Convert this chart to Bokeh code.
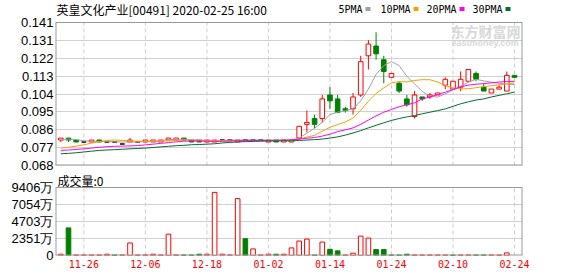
import numpy as np
from bokeh.plotting import figure
from bokeh.layouts import column
from bokeh.models import Range1d, FixedTicker, Label
from bokeh.core.properties import value
from bokeh.embed import file_html
from bokeh.resources import INLINE

# ---------------- data ----------------
title_text = "英皇文化产业[00491] 2020-02-25 16:00"
volume_title = "成交量:0"

dates = ["11-21", "11-22", "11-25", "11-26", "11-27", "11-28", "11-29", "12-02", "12-03", "12-04",
         "12-05", "12-06", "12-09", "12-10", "12-11", "12-12", "12-13", "12-16", "12-17", "12-18",
         "12-19", "12-20", "12-23", "12-24", "12-27", "12-30", "12-31", "01-02", "01-03", "01-06",
         "01-07", "01-08", "01-09", "01-10", "01-13", "01-14", "01-15", "01-16", "01-17", "01-20",
         "01-21", "01-22", "01-23", "01-24", "01-29", "01-30", "01-31", "02-03", "02-04", "02-05",
         "02-06", "02-10", "02-11", "02-12", "02-13", "02-14", "02-17", "02-18", "02-20", "02-24"]

opens = [0.081, 0.082, 0.081, 0.080, 0.080, 0.081, 0.080, 0.080, 0.079, 0.080,
         0.080, 0.080, 0.080, 0.080, 0.081, 0.081, 0.082, 0.081, 0.081, 0.080,
         0.080, 0.081, 0.081, 0.080, 0.081, 0.081, 0.081, 0.080, 0.081, 0.080,
         0.080, 0.082, 0.089, 0.092, 0.092, 0.104, 0.102, 0.097, 0.097, 0.104,
         0.124, 0.129, 0.122, 0.113, 0.110, 0.102, 0.093, 0.103, 0.103, 0.104,
         0.109, 0.107, 0.108, 0.111, 0.115, 0.108, 0.105, 0.107, 0.106, 0.114]
highs = [0.082, 0.082, 0.081, 0.080, 0.081, 0.081, 0.080, 0.080, 0.079, 0.082,
         0.080, 0.081, 0.081, 0.081, 0.082, 0.082, 0.082, 0.081, 0.081, 0.081,
         0.081, 0.081, 0.081, 0.081, 0.081, 0.081, 0.081, 0.081, 0.081, 0.081,
         0.081, 0.088, 0.096, 0.094, 0.104, 0.108, 0.104, 0.098, 0.105, 0.124,
         0.132, 0.136, 0.124, 0.115, 0.111, 0.104, 0.106, 0.103, 0.105, 0.105,
         0.113, 0.111, 0.116, 0.117, 0.116, 0.110, 0.107, 0.109, 0.116, 0.114]
lows = [0.080, 0.080, 0.080, 0.080, 0.080, 0.080, 0.080, 0.080, 0.079, 0.080,
        0.080, 0.080, 0.080, 0.080, 0.081, 0.081, 0.081, 0.080, 0.080, 0.080,
        0.080, 0.081, 0.081, 0.080, 0.081, 0.081, 0.081, 0.080, 0.080, 0.080,
        0.080, 0.081, 0.085, 0.087, 0.090, 0.097, 0.095, 0.095, 0.094, 0.103,
        0.117, 0.122, 0.110, 0.113, 0.105, 0.098, 0.092, 0.101, 0.102, 0.104,
        0.107, 0.107, 0.106, 0.111, 0.111, 0.106, 0.105, 0.107, 0.106, 0.113]
closes = [0.082, 0.081, 0.080, 0.080, 0.081, 0.080, 0.080, 0.080, 0.079, 0.081,
          0.080, 0.081, 0.081, 0.081, 0.082, 0.082, 0.081, 0.080, 0.080, 0.081,
          0.081, 0.081, 0.081, 0.081, 0.081, 0.081, 0.081, 0.081, 0.080, 0.081,
          0.081, 0.088, 0.090, 0.089, 0.102, 0.101, 0.095, 0.096, 0.103, 0.121,
          0.130, 0.125, 0.116, 0.115, 0.106, 0.099, 0.104, 0.102, 0.104, 0.105,
          0.112, 0.111, 0.112, 0.117, 0.112, 0.106, 0.107, 0.108, 0.114, 0.113]

# volume in 万 shares
volumes = [180, 3820, 70, 70, 70, 70, 180, 70, 70, 1730,
           70, 70, 180, 70, 2950, 70, 70, 70, 180, 180,
           8730, 180, 70, 7870, 2320, 910, 70, 180, 180, 180,
           1050, 2000, 2270, 70, 1860, 860, 640, 70, 320, 2680,
           2410, 820, 820, 70, 70, 180, 70, 70, 70, 70,
           70, 70, 70, 70, 70, 70, 70, 70, 360, 0]
volume_up = [1, 0, 1, 1, 1, 1, 1, 0, 1, 1,
             1, 1, 1, 1, 1, 1, 0, 0, 0, 1,
             1, 1, 1, 1, 0, 1, 1, 1, 0, 1,
             1, 1, 1, 0, 1, 0, 0, 1, 1, 1,
             1, 0, 0, 0, 0, 0, 1, 1, 1, 1,
             1, 0, 1, 1, 0, 0, 1, 1, 1, 1]

ma5 = [0.0808, 0.0815, 0.0812, 0.0806, 0.0804, 0.0802, 0.0802, 0.0801, 0.0800, 0.0800,
       0.0800, 0.0802, 0.0804, 0.0808, 0.0812, 0.0814, 0.0814, 0.0812, 0.0810, 0.0808,
       0.0806, 0.0808, 0.0810, 0.0810, 0.0810, 0.0810, 0.0810, 0.0810, 0.0808, 0.0808,
       0.0808, 0.0820, 0.0845, 0.0870, 0.0900, 0.0940, 0.0952, 0.0960, 0.0970, 0.1010,
       0.1070, 0.1145, 0.1190, 0.1210, 0.1190, 0.1135, 0.1097, 0.1058, 0.1034, 0.1029,
       0.1046, 0.1066, 0.1085, 0.1105, 0.1120, 0.1112, 0.1105, 0.1100, 0.1096, 0.1093]
ma10 = [0.0768, 0.0773, 0.0779, 0.0786, 0.0794, 0.0802, 0.0808, 0.0810, 0.0808, 0.0806,
        0.0804, 0.0803, 0.0803, 0.0804, 0.0806, 0.0809, 0.0810, 0.0809, 0.0808, 0.0807,
        0.0807, 0.0806, 0.0805, 0.0805, 0.0805, 0.0806, 0.0806, 0.0807, 0.0807, 0.0808,
        0.0808, 0.0815, 0.0825, 0.0834, 0.0855, 0.0875, 0.0889, 0.0902, 0.0922, 0.0962,
        0.1008, 0.1048, 0.1076, 0.1102, 0.1108, 0.1107, 0.1114, 0.1118, 0.1118, 0.1106,
        0.1088, 0.1076, 0.1071, 0.1072, 0.1077, 0.1083, 0.1087, 0.1092, 0.1097, 0.1101]
ma20 = [0.0757, 0.0759, 0.0762, 0.0765, 0.0769, 0.0773, 0.0776, 0.0778, 0.0779, 0.0780,
        0.0782, 0.0785, 0.0789, 0.0793, 0.0797, 0.0801, 0.0804, 0.0805, 0.0805, 0.0804,
        0.0803, 0.0803, 0.0805, 0.0807, 0.0808, 0.0808, 0.0808, 0.0808, 0.0809, 0.0810,
        0.0811, 0.0815, 0.0819, 0.0823, 0.0830, 0.0840, 0.0853, 0.0862, 0.0872, 0.0890,
        0.0912, 0.0933, 0.0952, 0.0966, 0.0980, 0.0990, 0.1000, 0.1020, 0.1030, 0.1042,
        0.1054, 0.1068, 0.1082, 0.1090, 0.1095, 0.1098, 0.1102, 0.1106, 0.1109, 0.1109]
ma30 = [0.0740, 0.0742, 0.0745, 0.0749, 0.0753, 0.0757, 0.0759, 0.0761, 0.0763, 0.0765,
        0.0767, 0.0769, 0.0772, 0.0775, 0.0778, 0.0781, 0.0783, 0.0786, 0.0787, 0.0789,
        0.0791, 0.0795, 0.0798, 0.0800, 0.0802, 0.0803, 0.0804, 0.0805, 0.0805, 0.0806,
        0.0806, 0.0808, 0.0810, 0.0812, 0.0815, 0.0820, 0.0826, 0.0835, 0.0846, 0.0858,
        0.0872, 0.0885, 0.0898, 0.0910, 0.0920, 0.0928, 0.0935, 0.0944, 0.0952, 0.0960,
        0.0969, 0.0982, 0.0995, 0.1005, 0.1014, 0.1020, 0.1030, 0.1038, 0.1046, 0.1055]

ma_names = ["5PMA", "10PMA", "20PMA", "30PMA"]
ma_series = [ma5, ma10, ma20, ma30]

price_tick_labels = ["0.068", "0.077", "0.086", "0.095", "0.104", "0.113", "0.122", "0.131", "0.141"]
volume_tick_labels = ["0", "2351万", "4703万", "7054万", "9406万"]
date_tick_labels = ["11-26", "12-06", "12-18", "01-02", "01-14", "01-24", "02-10", "02-24"]

# ---------------- styles / layout constants ----------------
RED = "#ff0000"
GREEN = "#008000"
FLAT = "#000000"
MA_COLORS = ["#a0a0a0", "#f5a000", "#ff00ff", "#00702e"]
FRAME = "#999999"
GRID = "#d0d0d0"
VGRID = "#cccccc"
W = 0.6
FRAME_L, FRAME_R = 55, 56          # left/right borders in px
PRICE_PX, PRICE_HEAD = 143, 22     # price box height, header row above it (px)
VOL_PX, VOL_HEAD = 68, 15          # volume box height, "成交量" row above it (px)

n = len(dates)
xs = list(range(n))
price_lo, price_hi = float(price_tick_labels[0]), float(price_tick_labels[-1])
vol_hi = float(volume_tick_labels[-1].replace("万", ""))
price_ticks = [float(v) for v in np.linspace(price_lo, price_hi, len(price_tick_labels))]
vol_ticks = [float(v) for v in np.linspace(0, vol_hi, len(volume_tick_labels))]
date_ticks = [dates.index(d) for d in date_tick_labels]

x0, x1 = -0.69, n + 0.04
x_range = Range1d(x0, x1)
px_per_x = (578 - FRAME_L - FRAME_R) / (x1 - x0)


def px_to_x(px):
    return x0 + (px - FRAME_L) / px_per_x


def style_y(p):
    p.background_fill_color = "white"
    p.border_fill_color = "white"
    p.outline_line_color = None
    p.xgrid.visible = False
    ya = p.yaxis[0]
    ya.axis_line_color = None
    ya.major_tick_line_color = None
    ya.minor_tick_line_color = None
    ya.major_tick_out = 0
    ya.major_tick_in = 0
    ya.major_label_standoff = 2
    ya.major_label_text_font = "Liberation Sans"
    ya.major_label_text_font_size = "13px"
    ya.major_label_text_color = "#000000"
    p.ygrid.grid_line_color = GRID


def draw_box(p, lo, hi):
    k = len(date_ticks)
    p.segment(x0=date_ticks, y0=[lo] * k, x1=date_ticks, y1=[hi] * k,
              line_color=VGRID, line_dash="4 3", line_width=1, level="underlay")
    p.segment(x0=[x0], y0=[hi], x1=[x1], y1=[hi], line_color=FRAME, line_width=1)
    p.segment(x0=[x0, x1, x0], y0=[lo, lo, lo], x1=[x0, x1, x1], y1=[hi, hi, lo],
              line_color=FRAME, line_width=2)


# ---------------- price panel (frame extends over the title row) ----------------
price_per_px = (price_hi - price_lo) / PRICE_PX
price_top = price_hi + PRICE_HEAD * price_per_px
p1 = figure(width=578, height=PRICE_PX + PRICE_HEAD + 7, x_range=x_range,
            y_range=Range1d(price_lo - 1e-9, price_top),
            output_backend="svg", toolbar_location=None, tools="",
            min_border_left=FRAME_L, min_border_right=FRAME_R, min_border_top=0, min_border_bottom=7)
style_y(p1)
p1.xaxis.visible = False
p1.yaxis.ticker = FixedTicker(ticks=price_ticks)
p1.yaxis.major_label_overrides = {t: lab for t, lab in zip(price_ticks, price_tick_labels)}
p1.ygrid.ticker = FixedTicker(ticks=price_ticks)

draw_box(p1, price_lo, price_hi)

wick_col = [RED if c > o else (GREEN if c < o else FLAT) for o, c in zip(opens, closes)]
p1.segment(x0=xs, y0=lows, x1=xs, y1=highs, line_color=wick_col, line_width=1)

up_i = [i for i in xs if closes[i] > opens[i]]
dn_i = [i for i in xs if closes[i] < opens[i]]
fl_i = [i for i in xs if closes[i] == opens[i]]
p1.vbar(x=up_i, width=W, top=[closes[i] for i in up_i], bottom=[opens[i] for i in up_i],
        fill_color="white", line_color=RED, line_width=1)
p1.vbar(x=dn_i, width=W, top=[opens[i] for i in dn_i], bottom=[closes[i] for i in dn_i],
        fill_color=GREEN, line_color=GREEN, line_width=1)
p1.segment(x0=[i - W / 2 for i in fl_i], y0=[opens[i] for i in fl_i],
           x1=[i + W / 2 for i in fl_i], y1=[opens[i] for i in fl_i],
           line_color=FLAT, line_width=1.5)

for ser, col in zip(ma_series, MA_COLORS):
    p1.line(xs, ser, line_color=col, line_width=1)

# title and legend in the header row
head_y = price_hi + (PRICE_HEAD - 8.5) * price_per_px
p1.text(x=[px_to_x(56)], y=[head_y], text=[title_text], text_font=value("Noto Sans CJK SC"),
        text_font_size="12px", text_color="#000000", text_baseline="middle", text_align="left")
leg_px = [338, 380, 426, 472]
sq_px = [367.5, 415.5, 461.5, 507.5]
p1.text(x=[px_to_x(v) for v in leg_px], y=[head_y] * 4, text=ma_names,
        text_font=value("DejaVu Sans Mono"), text_font_size="10px", text_color="#000000",
        text_baseline="middle", text_align="left")
p1.rect(x=[px_to_x(v) for v in sq_px], y=[head_y] * 4, width=5, height=4,
        width_units="screen", height_units="screen", fill_color=MA_COLORS, line_color=None)

# watermark
p1.add_layout(Label(x=395, y=134.5, x_units="screen", y_units="screen", text="东方财富网",
                    text_font="Noto Sans CJK SC", text_font_size="14px", text_font_style="bold",
                    text_color="#d8d8d8", text_baseline="middle", text_align="left"))
p1.add_layout(Label(x=396, y=122.5, x_units="screen", y_units="screen", text="eastmoney.com",
                    text_font="Liberation Sans", text_font_size="9px", text_font_style="bold",
                    text_color="#d8d8d8", text_baseline="middle", text_align="left"))

# ---------------- volume panel (frame extends over the "成交量" row) ----------------
vol_per_px = vol_hi / VOL_PX
vol_top = vol_per_px * (VOL_PX + VOL_HEAD)
p2 = figure(width=578, height=276 - (PRICE_PX + PRICE_HEAD + 7), x_range=x_range,
            y_range=Range1d(0, vol_top),
            output_backend="svg", toolbar_location=None, tools="",
            min_border_left=FRAME_L, min_border_right=FRAME_R, min_border_top=0, min_border_bottom=21)
style_y(p2)
p2.yaxis.ticker = FixedTicker(ticks=vol_ticks)
p2.yaxis.major_label_overrides = {t: lab for t, lab in zip(vol_ticks, volume_tick_labels)}
p2.ygrid.ticker = FixedTicker(ticks=vol_ticks)

xa = p2.xaxis[0]
xa.ticker = FixedTicker(ticks=date_ticks)
xa.major_label_overrides = {t: lab for t, lab in zip(date_ticks, date_tick_labels)}
xa.axis_line_color = None
xa.major_tick_line_color = None
xa.minor_tick_line_color = None
xa.major_tick_out = 0
xa.major_tick_in = 0
xa.major_label_standoff = 4
xa.major_label_text_font = "DejaVu Sans Mono"
xa.major_label_text_font_size = "10px"
xa.major_label_text_color = RED

vu = [i for i in xs if volume_up[i] and volumes[i] > 0]
vd = [i for i in xs if not volume_up[i] and volumes[i] > 0]
p2.vbar(x=vu, width=W, top=[volumes[i] for i in vu], bottom=0,
        fill_color="white", line_color=RED, line_width=1)
p2.vbar(x=vd, width=W, top=[volumes[i] for i in vd], bottom=0,
        fill_color=GREEN, line_color=GREEN, line_width=1)

draw_box(p2, 0, vol_hi)

p2.text(x=[px_to_x(57)], y=[vol_per_px * (VOL_PX + 7.5)], text=[volume_title],
        text_font=value("Noto Sans CJK SC"), text_font_size="12px", text_color="#000000",
        text_baseline="middle", text_align="left")

layout = column(p1, p2)
open("out.html", "w").write(file_html(layout, INLINE))
